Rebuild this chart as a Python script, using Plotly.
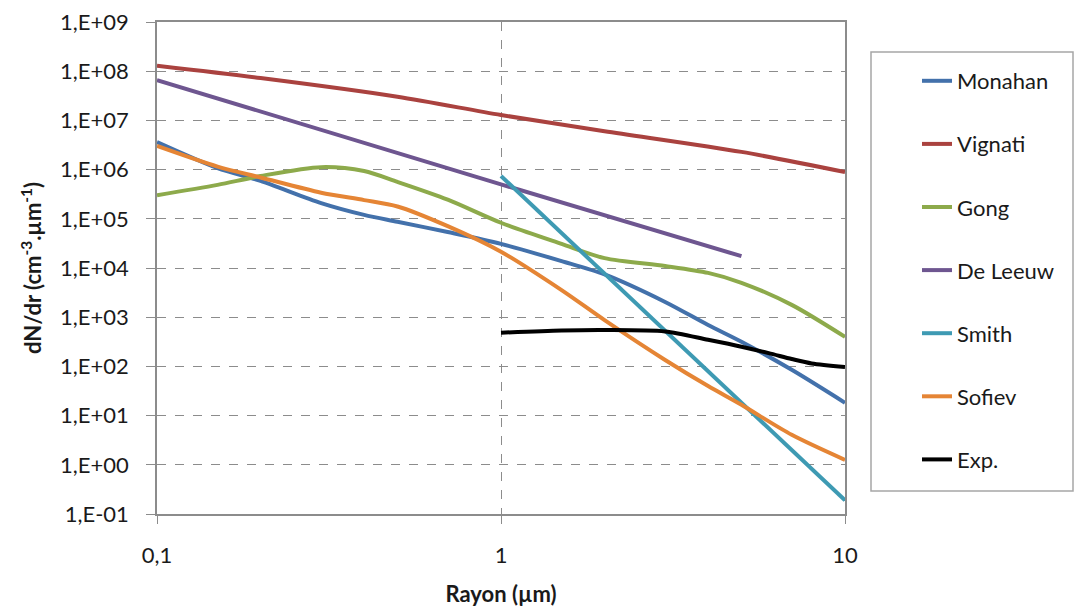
import plotly.graph_objects as go

# ---- data (x: radius in µm, y: dN/dr, read as log10 from the picture) ----
x_full = [0.1, 0.15, 0.2, 0.3, 0.4, 0.5, 0.7, 1, 1.5, 2, 3, 4, 5, 7, 10]

monahan_log = [6.56, 6.03, 5.77, 5.32, 5.08, 4.94, 4.73, 4.49, 4.14, 3.87, 3.31, 2.84, 2.50, 1.93, 1.26]

vignati_x = [0.1, 0.2, 0.5, 1, 2, 5, 10]
vignati_log = [8.11, 7.86, 7.48, 7.11, 6.78, 6.36, 5.95]

gong_log = [5.48, 5.69, 5.87, 6.05, 5.97, 5.75, 5.39, 4.92, 4.49, 4.20, 4.04, 3.90, 3.70, 3.25, 2.60]

deleeuw_x = [0.1, 1, 5]
deleeuw_log = [7.82, 5.70, 4.24]

smith_x = [1, 10]
smith_log = [5.87, -0.72]

sofiev_log = [6.48, 6.06, 5.84, 5.53, 5.38, 5.25, 4.85, 4.33, 3.55, 2.94, 2.13, 1.60, 1.22, 0.61, 0.10]

exp_x = [1, 1.5, 2, 3, 4, 5, 6, 7, 8, 10]
exp_log = [2.685, 2.73, 2.74, 2.71, 2.54, 2.40, 2.27, 2.15, 2.06, 1.99]

x_tickvals = [0.1, 1, 10]
x_ticktext = ["0,1", "1", "10"]
y_exponents = list(range(-1, 10))
y_ticktext = ["1,E-01" if e < 0 else "1,E+%02d" % e for e in y_exponents]

names = ["Monahan", "Vignati", "Gong", "De Leeuw", "Smith", "Sofiev", "Exp."]
colors = ["#4371AB", "#AA423F", "#8DAA4B", "#6E5690", "#3E9AB3", "#E58535", "#000000"]

series = [
    (x_full, monahan_log),
    (vignati_x, vignati_log),
    (x_full, gong_log),
    (deleeuw_x, deleeuw_log),
    (smith_x, smith_log),
    (x_full, sofiev_log),
    (exp_x, exp_log),
]

FONT = "Lato, 'Liberation Sans', sans-serif"

# layout geometry (screen pixels); the page body adds an 8 px offset
OFF = 8
W, H = 1083 - OFF, 607 - OFF
L, T = 157 - OFF, 22 - OFF
PW, PH = 688, 492
R, B = W - L - PW, H - T - PH

def px_x(p):
    return (p - OFF - L) / PW

def px_y(p):
    return (T + PH - (p - OFF)) / PH

fig = go.Figure()
for (xs, ls), name, col in zip(series, names, colors):
    fig.add_trace(go.Scatter(
        x=xs, y=[10 ** v for v in ls], mode="lines", name=name,
        legendgroup=name,
        line=dict(color=col, width=4, shape="spline", smoothing=0.8),
    ))

axis_col = "#8C8C8C"
fig.update_layout(
    width=W, height=H,
    margin=dict(l=L, r=R, t=T, b=B, autoexpand=False),
    paper_bgcolor="white", plot_bgcolor="white",
    font=dict(family=FONT, size=22, color="#1a1a1a"),
    showlegend=True,
    legend=dict(
        x=px_x(917), y=px_y(60), xanchor="left", yanchor="top",
        borderwidth=0, bgcolor="rgba(0,0,0,0)",
        font=dict(size=22),
        tracegroupgap=31.5,
    ),
    shapes=[dict(
        type="rect", xref="paper", yref="paper",
        x0=px_x(871), x1=px_x(1073), y0=px_y(52), y1=px_y(491),
        line=dict(color="#A6A6A6", width=1.5), fillcolor="rgba(0,0,0,0)",
    )],
    xaxis=dict(
        type="log", range=[-1, 1], automargin=False,
        tickvals=x_tickvals, ticktext=x_ticktext,
        showgrid=True, gridcolor=axis_col, griddash="dash", gridwidth=1.2,
        showline=True, linecolor=axis_col, linewidth=1.5, mirror=True,
        ticks="outside", ticklen=8, tickcolor=axis_col,
        ticklabelstandoff=13, ticklabeloverflow="allow",
        title=dict(text="<b>Rayon (µm)</b>", font=dict(size=22), standoff=24),
        zeroline=False,
    ),
    yaxis=dict(
        type="log", range=[-1, 9], automargin=False,
        tickvals=[10.0 ** e for e in y_exponents], ticktext=y_ticktext,
        showgrid=True, gridcolor=axis_col, griddash="dash", gridwidth=1.2,
        showline=True, linecolor=axis_col, linewidth=1.5, mirror=True,
        ticks="outside", ticklen=9, tickcolor=axis_col,
        ticklabelstandoff=13, ticklabeloverflow="allow",
        title=dict(text="<b>dN/dr (cm<sup>-3</sup>.µm<sup>-1</sup>)</b>", font=dict(size=22), standoff=12),
        zeroline=False,
    ),
)

fig.write_html("out.html")
